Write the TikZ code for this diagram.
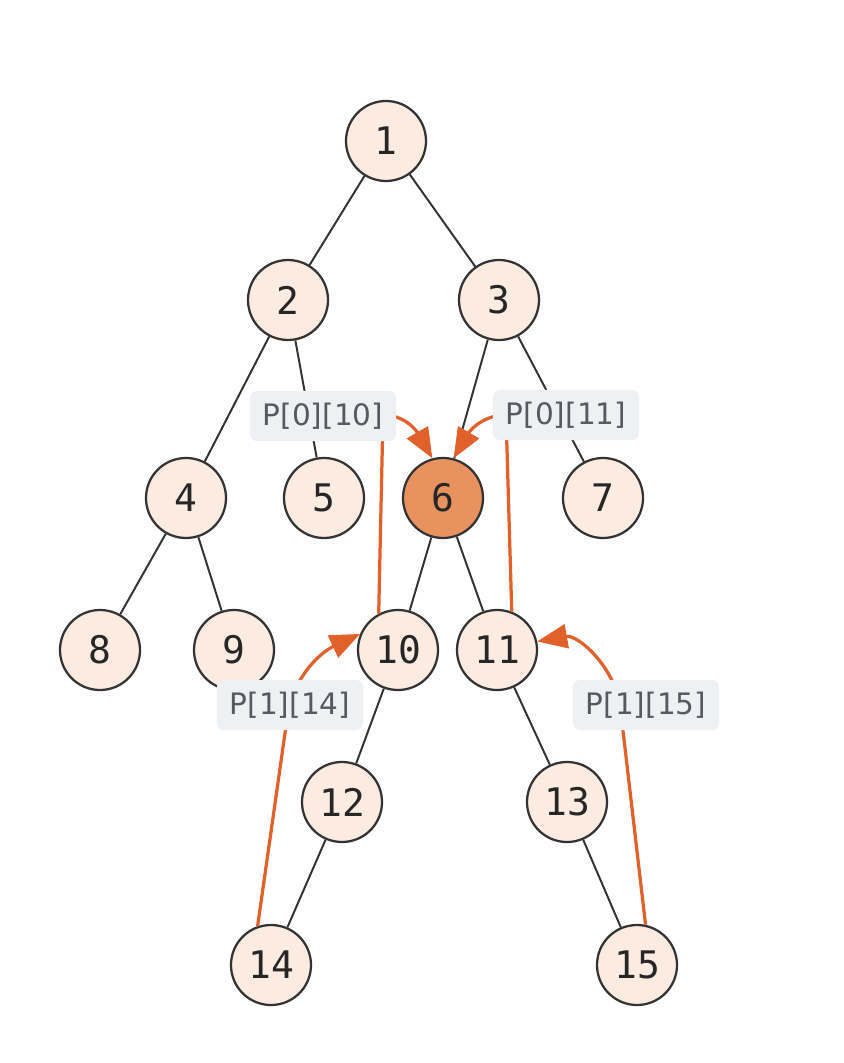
\documentclass[tikz,border=0pt]{standalone}
\usepackage{fontspec}
\setmainfont{DejaVu Sans}
\setmonofont{DejaVu Sans Mono}
\usetikzlibrary{arrows.meta}
\definecolor{c1}{HTML}{333333}
\definecolor{c2}{HTML}{FBEBE1}
\definecolor{c3}{HTML}{E8925F}
\definecolor{c4}{HTML}{E0622A}
\definecolor{c5}{HTML}{EEF0F3}
\definecolor{labelcolor}{HTML}{555A60}
\definecolor{digitcolor}{HTML}{262626}

\begin{document}
\begin{tikzpicture}[
    x=0.025cm, y=-0.025cm,
    vertex/.style={circle, draw=c1, line width=1.6pt, fill=c2, minimum size=2.0cm,
        inner sep=0pt, text=digitcolor, font=\ttfamily\fontsize{27}{27}\selectfont},
    hot/.style={vertex, fill=c3},
    edge/.style={c1, line width=1.4pt},
    jump/.style={c4, line width=2.3pt, -{Triangle[length=0.75cm, width=0.6cm]}},
    tag/.style={fill=c5, rounded corners=5pt, text=labelcolor, inner sep=0pt,
        font=\fontsize{21}{21}\selectfont, minimum width=3.65cm, minimum height=1.25cm},
]

\useasboundingbox[fill=white] (0,0) rectangle (843,1063);

% ---------------------------------------------------------------- the tree
\foreach \n/\x/\y in {1/386/141, 2/288/300, 3/499/300, 4/186/498, 5/324/498,
                      7/603/498, 8/100/650, 9/234/650, 10/398/650, 11/497/650,
                      12/342/802, 13/567/802, 14/271/965, 15/637/965}{
    \node[vertex] (n\n) at (\x, \y) {\n};
}
\node[hot] (n6) at (443, 498) {6};

\foreach \a/\b in {1/2, 1/3, 2/4, 2/5, 3/6, 3/7, 4/8, 4/9,
                   6/10, 6/11, 10/12, 11/13, 12/14, 13/15}{
    \draw[edge] (n\a) -- (n\b);
}

% ---------------------------------------------------------------- the jumps
\coordinate (k10) at (383, 415);
\coordinate (k11) at (506, 415);
\coordinate (k14) at (289, 705);
\coordinate (k15) at (620, 705);

\draw[jump] (n10.118) -- (k10) to[out=0, in=120] (n6.105);
\draw[jump] (n11.69) -- (k11) to[out=180, in=60] (n6.75);
\draw[jump] (n14.109) -- (k14) to[out=72, in=205] (n10.157);
\draw[jump] (n15.78) -- (k15) to[out=100, in=10] (n11.12);

% ---------------------------------------------------------------- labels
\node[tag] (t10) at (323, 416) {P[0][10]};
\node[tag] (t11) at (566, 415) {P[0][11]};
\node[tag] (t14) at (290, 705) {P[1][14]};
\node[tag] (t15) at (646, 705) {P[1][15]};

\end{tikzpicture}
\end{document}
